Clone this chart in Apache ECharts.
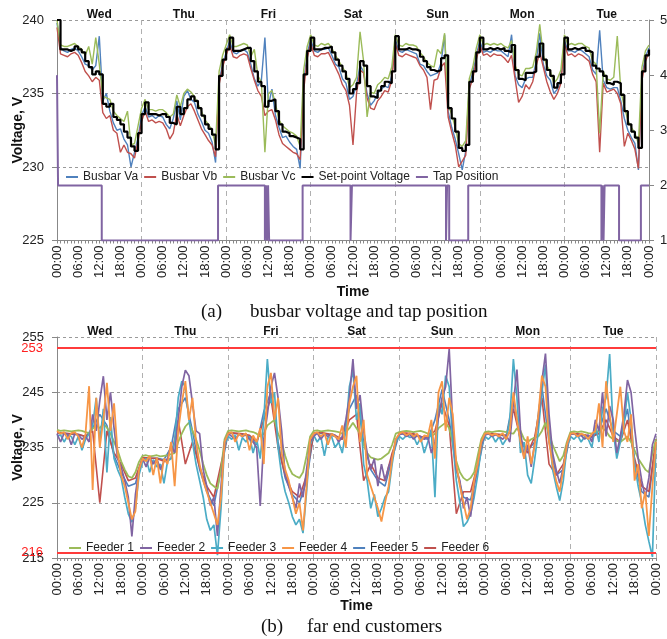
<!DOCTYPE html>
<html>
<head>
<meta charset="utf-8">
<script src="https://cdn.jsdelivr.net/npm/echarts@6/dist/echarts.min.js"></script>
<style>
html, body { margin: 0; padding: 0; background: #fff; }
#chart { width: 667px; height: 639px; }
</style>
</head>
<body>
<div id="chart"></div>
<script>
// week of hourly readings, t = 0 .. 168 h (Wed 00:00 -> Wed 00:00)
var days = ['Wed', 'Thu', 'Fri', 'Sat', 'Sun', 'Mon', 'Tue'];

// (a) busbar voltages, hourly
var setPoint = [
  240.0,238.0,238.0,237.9,238.0,238.2,238.0,237.8,237.2,236.8,236.3,236.5,236.3,234.3,234.1,234.3,233.4,233.2,232.9,232.4,232.0,231.4,231.1,232.3,
  233.6,234.4,233.6,233.6,233.5,233.6,233.6,233.4,233.0,232.9,234.1,233.6,234.0,234.6,234.8,234.5,234.0,233.5,232.9,232.6,232.2,231.2,236.2,237.3,
  238.0,238.8,237.9,237.9,238.0,238.1,238.1,237.2,236.5,235.8,235.5,234.1,234.5,234.6,233.8,232.9,232.4,232.3,232.1,232.0,231.9,231.2,236.3,237.9,
  238.8,238.0,238.0,238.1,238.1,238.2,237.8,237.3,236.9,236.5,236.0,235.0,235.3,235.7,237.2,236.9,235.5,234.8,234.7,235.2,235.5,235.8,235.7,236.5,
  238.9,238.0,238.0,238.1,238.0,238.0,237.9,237.5,237.2,236.8,236.6,236.5,236.6,237.4,237.6,234.0,233.3,232.4,231.3,231.1,231.5,235.8,236.5,237.8,
  238.8,238.0,238.1,238.0,238.1,238.0,238.1,237.9,237.8,238.3,236.6,236.0,235.9,236.4,236.4,236.5,237.5,238.4,237.3,236.6,236.2,235.4,235.7,236.3,
  238.8,238.0,238.1,238.0,238.1,238.1,237.9,237.8,236.9,236.7,236.5,236.2,235.7,235.6,235.8,235.7,234.9,233.8,232.9,232.4,232.0,231.3,236.5,237.6,238.0
];
var busVa = [
  239.8,238.1,237.9,237.8,238.0,238.1,237.9,237.5,237.0,236.9,236.6,236.9,238.9,234.5,235.0,233.8,233.0,232.5,232.6,231.9,231.5,230.0,231.0,232.0,
  233.5,234.1,233.4,233.5,233.3,233.5,233.4,232.9,232.6,233.3,234.5,233.2,234.8,235.2,234.6,234.4,233.6,233.1,232.5,232.3,231.7,230.3,235.8,237.0,
  237.8,238.6,237.8,237.7,237.9,238.0,237.8,237.0,236.0,235.5,235.9,238.8,234.2,235.3,233.5,232.7,232.0,232.1,231.7,231.4,231.2,229.9,235.8,237.7,
  238.7,237.9,237.8,238.0,238.0,238.1,237.6,237.0,236.8,236.0,235.7,234.6,234.8,235.6,236.9,236.5,235.0,234.2,234.5,235.0,235.3,235.5,235.4,236.2,
  238.7,237.9,237.8,238.0,237.9,237.8,237.7,237.0,236.9,236.5,236.2,236.3,236.4,237.1,239.0,233.8,232.7,231.9,230.9,229.8,231.1,235.6,236.4,237.6,
  238.6,237.8,237.9,237.8,238.0,237.9,237.9,237.7,237.5,239.0,236.2,235.6,235.4,236.0,236.1,236.1,237.2,239.1,237.0,236.2,235.9,235.0,235.3,236.0,
  238.6,237.9,237.9,237.8,238.0,237.9,237.7,237.5,236.6,236.3,239.3,235.9,235.4,235.3,235.4,235.4,234.5,233.3,232.5,232.0,231.6,229.8,236.2,237.5,238.1
];
var busVb = [
  239.5,237.7,237.6,237.5,237.7,237.8,237.6,237.1,236.5,236.2,235.8,236.1,235.9,233.7,233.3,233.5,232.5,232.3,231.0,231.5,231.0,230.9,230.6,231.8,
  233.1,233.8,233.1,233.2,233.0,233.1,233.0,232.6,231.9,232.3,233.6,232.8,233.5,234.1,234.3,233.8,233.2,232.6,232.2,231.8,231.5,230.7,235.6,236.8,
  237.6,238.3,237.5,237.4,237.6,237.7,237.6,236.7,235.9,235.2,234.8,233.5,233.8,233.9,233.2,232.2,231.6,231.4,231.2,231.0,230.9,230.5,235.2,237.4,
  238.4,237.6,237.5,237.7,237.7,237.8,237.3,236.8,236.3,235.6,235.2,234.2,231.5,235.0,236.6,236.4,234.7,234.0,233.9,234.5,234.8,235.2,235.1,235.9,
  238.4,237.6,237.5,237.7,237.6,237.5,237.4,236.9,236.6,236.1,233.9,235.9,236.0,236.8,237.1,233.4,232.4,231.5,230.0,230.4,230.8,235.3,236.0,237.3,
  238.3,237.6,237.7,237.5,237.7,237.6,237.6,237.4,237.1,237.6,236.0,234.4,234.8,235.6,235.3,235.8,236.9,237.8,236.8,235.8,235.1,234.6,235.0,235.7,
  238.4,237.6,237.7,237.5,237.7,237.6,237.4,237.2,236.3,235.8,231.0,235.7,235.1,235.2,235.3,235.0,234.3,231.4,232.3,231.8,231.2,229.9,235.9,237.2,237.8
];
var busVc = [
  240.0,238.3,238.2,238.2,238.3,238.4,238.2,238.0,237.6,238.2,237.0,238.8,237.0,234.8,234.7,234.6,233.8,233.5,233.3,233.1,233.8,231.5,231.6,232.8,
  234.0,234.6,233.9,233.9,233.8,233.9,233.9,233.7,233.4,233.6,234.9,234.1,235.0,235.3,235.1,234.8,234.3,233.8,233.2,232.9,232.5,231.5,236.5,237.6,
  238.3,239.0,238.2,238.2,238.3,238.4,238.3,237.5,238.0,236.2,235.8,231.0,235.0,235.2,234.3,233.2,232.8,232.6,232.4,232.3,232.1,231.4,236.6,238.2,
  239.0,238.3,238.2,238.4,238.3,238.4,238.1,237.6,237.2,236.8,236.4,235.4,235.6,236.1,239.2,237.2,233.4,235.1,235.0,235.6,235.8,236.1,236.0,236.8,
  239.0,238.3,238.2,238.4,238.3,238.3,238.2,237.8,237.5,237.1,236.9,236.8,238.0,237.7,239.1,234.2,233.6,232.7,231.6,231.4,231.8,236.0,236.8,238.1,
  239.0,238.3,238.4,238.3,238.4,238.3,238.4,238.2,238.1,238.6,236.9,236.3,236.2,236.7,236.7,236.8,237.8,239.7,237.6,236.9,236.5,235.7,236.0,236.6,
  239.0,238.3,238.4,238.3,238.4,238.4,238.2,238.1,237.2,237.0,232.3,236.5,236.0,235.9,236.1,238.9,235.2,234.1,233.2,232.7,232.3,231.6,236.8,237.9,238.3
];
// tap changes: [hour, tap position]
var tapChanges = [
  [0,4],[0.3,2],[12.7,1],[45.7,2],[59.0,1],[59.3,2],[59.6,1],[59.9,2],[60.2,1],[69.7,2],
  [83.3,1],[83.7,2],[110.4,1],[110.7,2],[111.3,1],[116.7,2],
  [154.5,1],[154.8,2],[155.1,1],[155.4,2],[159.5,1],[165.7,2],[168,2]
];

// (b) far end customers, hourly (feeders 1-4) and 2-hourly (feeders 5-6)
var feeder1 = [
  238.2,238.0,238.1,238.0,237.9,238.0,238.1,238.0,237.8,237.6,238.4,239.0,238.5,239.3,238.6,237.5,236.0,234.5,232.5,231.0,229.8,229.5,230.5,232.4,
  233.5,233.6,233.4,233.5,233.6,233.4,233.5,233.6,233.8,234.0,236.0,237.5,238.8,239.5,238.0,236.5,234.5,232.0,230.0,228.5,228.0,227.5,231.0,236.5,
  238.0,238.1,238.0,237.9,238.0,238.1,237.9,237.8,237.5,237.0,237.5,239.0,239.5,240.0,237.5,236.0,233.5,231.5,230.2,229.8,229.5,230.5,233.5,237.0,
  238.0,238.1,237.9,238.0,238.1,238.0,237.9,237.8,237.5,237.8,238.5,239.5,238.5,237.5,235.5,234.0,233.2,233.0,232.8,233.0,233.5,234.0,235.5,237.5,
  237.8,237.9,238.0,237.9,237.8,237.9,238.0,237.8,237.5,237.0,237.5,238.5,239.0,239.5,238.5,236.0,232.5,230.5,229.5,229.0,229.5,230.5,233.5,236.5,
  237.8,237.9,237.8,237.9,238.0,237.9,237.8,237.6,237.5,238.5,238.0,236.5,236.0,236.5,236.8,237.0,238.0,239.5,237.5,235.5,234.0,232.5,233.5,236.0,
  237.8,237.9,237.8,237.9,237.8,237.6,237.5,237.8,238.0,238.5,238.0,237.0,236.5,236.2,236.0,236.5,237.0,236.0,234.5,233.0,232.0,231.0,230.5,234.0,236.5
];
var feeder2 = [
  237.5,236.0,237.6,237.4,235.5,237.5,237.3,236.5,237.0,236.0,241.0,238.0,243.5,247.9,240.0,245.0,238.5,233.0,231.5,229.0,226.0,218.9,226.5,231.0,
  233.0,231.5,233.2,232.0,233.0,231.0,232.5,233.0,235.5,234.0,240.0,246.0,249.0,248.0,243.0,238.0,237.5,231.0,228.0,224.5,226.0,219.0,228.0,236.0,
  237.5,237.0,236.5,237.4,237.0,237.3,236.5,236.0,235.0,224.4,236.5,241.0,246.0,248.5,244.0,238.0,230.0,228.0,226.0,224.0,228.5,226.0,231.0,236.0,
  237.0,237.6,236.5,237.4,237.0,237.5,237.2,236.0,237.0,240.0,244.0,251.0,242.0,244.5,238.0,234.0,231.0,233.0,228.0,232.0,229.0,231.5,233.0,236.5,
  237.3,237.5,237.0,237.4,236.5,237.2,237.0,236.5,237.0,234.0,236.0,240.5,244.0,246.0,252.8,239.0,231.0,229.0,224.0,226.0,222.5,228.0,232.0,235.5,
  237.2,237.5,237.0,237.3,237.0,236.5,237.2,236.0,243.0,249.1,238.0,233.0,235.5,231.5,236.0,240.0,247.0,252.0,241.0,234.0,231.0,228.5,231.5,235.5,
  237.3,237.5,237.0,237.2,236.5,237.3,236.0,240.0,238.0,245.0,237.0,242.5,240.0,234.0,237.0,241.0,247.2,245.0,238.5,233.0,229.0,226.0,229.5,235.5,237.5
];
var feeder3 = [
  237.0,237.3,236.0,237.2,237.0,235.5,237.0,234.5,236.5,237.5,239.0,244.0,236.0,242.0,230.5,240.5,233.0,231.0,229.5,226.0,223.0,221.5,224.0,230.0,
  232.5,233.0,230.5,232.8,231.5,232.0,228.5,232.5,233.0,236.0,244.0,247.0,246.0,240.0,236.0,232.0,229.0,226.0,222.0,220.0,221.0,215.5,224.0,235.5,
  237.0,236.5,237.2,234.5,236.8,236.0,237.0,234.0,236.5,233.0,240.0,251.0,243.0,245.0,235.0,230.0,227.0,225.0,222.5,221.0,222.0,219.5,227.0,235.5,
  237.2,236.0,237.0,233.5,236.8,237.0,235.0,236.0,234.0,238.0,246.0,249.0,240.0,243.0,232.0,229.0,224.0,226.5,222.5,224.0,226.0,227.0,232.0,236.0,
  237.0,236.5,237.2,236.8,237.0,235.5,236.8,234.0,236.0,238.0,226.0,243.0,241.0,248.0,246.0,236.0,229.0,225.0,220.7,221.5,223.0,226.0,230.0,235.0,
  237.0,236.5,237.2,236.0,237.0,235.5,236.5,240.0,251.0,244.0,234.0,236.0,230.0,228.5,233.0,238.0,245.0,250.0,238.0,231.0,228.0,225.4,229.0,235.0,
  237.0,236.5,237.2,236.0,237.0,236.5,235.0,239.0,236.0,242.0,244.0,251.9,238.0,233.0,236.0,239.0,245.0,240.0,232.0,228.0,225.0,221.0,218.0,215.2,236.0
];
var feeder4 = [
  238.0,237.5,237.8,236.5,237.6,237.8,237.0,235.0,237.5,246.1,227.3,244.0,235.0,240.0,246.7,238.0,243.0,234.0,230.0,228.0,225.0,222.0,223.5,231.0,
  233.0,232.5,233.5,230.0,233.2,228.5,233.0,232.0,236.0,228.0,238.0,243.0,247.0,240.0,244.0,236.0,232.0,229.0,227.0,225.0,223.0,221.0,226.0,236.0,
  237.5,237.8,236.0,237.5,237.0,237.6,234.5,237.2,236.0,238.5,232.0,246.0,248.5,240.0,244.0,234.0,231.0,229.0,226.0,223.0,225.0,220.0,228.0,236.5,
  237.5,237.8,237.0,237.6,235.5,237.5,237.0,236.5,239.0,235.0,243.0,246.0,248.0,236.0,240.0,230.0,228.0,226.0,224.0,221.6,225.0,228.0,233.0,236.5,
  237.5,237.8,237.2,237.6,237.0,237.5,236.0,237.2,237.0,240.0,233.0,245.0,247.0,238.0,244.0,241.0,232.0,228.0,225.0,222.0,224.0,229.0,232.0,236.0,
  237.5,237.6,237.2,237.5,237.0,237.6,236.5,238.0,245.0,240.0,236.0,233.0,237.0,232.0,235.5,241.0,248.0,246.0,236.0,232.0,229.0,227.0,231.0,235.5,
  237.5,237.6,237.0,237.5,237.2,236.5,237.5,238.0,243.0,235.0,247.0,241.0,236.0,241.0,246.0,238.0,236.0,241.0,229.0,232.0,224.0,227.0,219.0,228.0,236.0
];
var feeder5 = [
  237.6,237.5,237.4,237.3,237.0,238.5,241.0,239.0,233.5,230.5,228.0,228.5,
  233.0,233.0,233.1,232.8,235.0,242.0,244.0,238.0,231.0,227.0,224.5,231.0,
  237.6,237.5,237.4,237.0,235.5,241.5,245.0,236.0,229.5,226.5,225.0,229.0,
  237.5,237.6,237.4,237.0,236.5,242.0,244.5,236.0,231.0,229.0,228.0,233.0,
  237.5,237.5,237.4,236.8,236.5,240.0,245.5,240.0,231.0,226.0,225.5,231.0,
  237.5,237.4,237.3,237.0,244.0,236.0,234.5,236.0,246.0,236.0,230.0,231.0,
  237.5,237.4,237.2,236.8,238.0,242.0,238.0,237.0,242.0,232.0,227.0,226.0,236.0
];
var feeder6 = [
  237.7,237.6,237.5,237.4,237.0,238.0,225.0,238.0,234.0,232.0,229.0,229.5,
  233.2,233.1,233.0,232.5,233.0,240.0,232.0,236.0,231.5,228.0,226.0,232.0,
  237.7,237.6,237.5,237.2,236.0,240.0,244.0,235.0,230.0,227.0,226.0,230.0,
  237.6,237.7,237.5,237.2,236.5,240.0,241.0,229.0,232.0,229.5,229.0,234.0,
  237.6,237.6,237.5,237.0,236.8,238.0,243.0,239.0,223.0,227.0,227.0,232.0,
  237.6,237.5,237.4,237.2,242.0,236.5,234.0,237.0,244.0,232.0,230.0,232.0,
  237.6,237.5,237.3,237.0,237.5,240.0,237.0,236.0,240.0,233.0,228.0,227.0,236.5
];
var limitHigh = 253, limitLow = 216;

function pairs(arr, step) {
  return arr.map(function (v, i) { return [i * step, v]; });
}
function hourLabel(v) {
  var h = v % 24;
  return (h < 10 ? '0' : '') + h + ':00';
}

var chart = echarts.init(document.getElementById('chart'));
var FONT = 'Liberation Sans';
var gridDash = { color: '#9a9a9a', type: [3, 3], width: 1 };
var dayDash = { color: '#b0b0b0', type: [5, 4], width: 1 };

function timeAxis(gi, gap) {
  return {
    type: 'value', gridIndex: gi, min: 0, max: 168, interval: 6,
    axisLine: { show: true, onZero: false, lineStyle: { color: '#888' } },
    axisTick: { show: true, length: 3, lineStyle: { color: '#888' } },
    minorTick: { show: true, splitNumber: 6, length: 3, lineStyle: { color: '#888' } },
    splitLine: { show: false },
    axisLabel: { rotate: 90, margin: 5, fontFamily: FONT, fontSize: 13, color: '#222', formatter: hourLabel },
    name: 'Time', nameLocation: 'middle', nameGap: gap, nameMoveOverlap: false,
    nameTextStyle: { fontFamily: FONT, fontSize: 14, fontWeight: 'bold', color: '#111' }
  };
}
function dayAxis(gi) {
  return {
    type: 'category', gridIndex: gi, position: 'top', data: days, boundaryGap: true,
    axisLine: { show: false }, axisTick: { show: false },
    axisLabel: { margin: -1, fontFamily: FONT, fontSize: 12, fontWeight: 'bold', color: '#111' },
    splitLine: { show: true, lineStyle: dayDash }
  };
}
function voltAxis(gi, min, max, interval) {
  return {
    type: 'value', gridIndex: gi, min: min, max: max, interval: interval,
    axisLine: { show: true, lineStyle: { color: '#888' } },
    axisTick: { show: true, length: 5, lineStyle: { color: '#888' } },
    axisLabel: { fontFamily: FONT, fontSize: 13, color: '#222', margin: 13 },
    splitLine: { show: true, lineStyle: gridDash },
    name: 'Voltage, V', nameLocation: 'middle', nameGap: 32, nameMoveOverlap: false,
    nameTextStyle: { fontFamily: FONT, fontSize: 14, fontWeight: 'bold', color: '#111' }
  };
}
function lineSeries(name, data, color, width, xi, yi, extra) {
  var s = {
    name: name, type: 'line', data: data, xAxisIndex: xi, yAxisIndex: yi,
    showSymbol: false, symbol: 'none', lineStyle: { color: color, width: width },
    itemStyle: { color: color }, silent: true
  };
  for (var k in extra) s[k] = extra[k];
  return s;
}

var topNames = ['Busbar Va', 'Busbar Vb', 'Busbar Vc', 'Set-point Voltage', 'Tap Position'];
var botNames = ['Feeder 1', 'Feeder 2', 'Feeder 3', 'Feeder 4', 'Feeder 5', 'Feeder 6'];
var legendText = { fontFamily: FONT, fontSize: 12, color: '#222' };

var option = {
  animation: false,
  backgroundColor: '#fff',
  grid: [
    { left: 57, top: 20, width: 592, height: 220.5, outerBoundsMode: 'none', containLabel: false },
    { left: 57, top: 337, width: 599, height: 221, outerBoundsMode: 'none', containLabel: false }
  ],
  legend: [
    { data: topNames, left: 61, top: 166, icon: 'rect', itemWidth: 12, itemHeight: 2, itemGap: 6, textStyle: legendText },
    { data: botNames, left: 64, top: 537, icon: 'rect', itemWidth: 12, itemHeight: 2, itemGap: 6, textStyle: legendText }
  ],
  xAxis: [timeAxis(0, 45), dayAxis(0), timeAxis(1, 41), dayAxis(1)],
  yAxis: [
    voltAxis(0, 225, 240, 5),
    {
      type: 'value', gridIndex: 0, position: 'right', min: 1, max: 5, interval: 1,
      axisLine: { show: true, lineStyle: { color: '#888' } },
      axisTick: { show: true, length: 5, lineStyle: { color: '#888' } },
      axisLabel: { fontFamily: FONT, fontSize: 13, color: '#222', margin: 11 },
      splitLine: { show: false }
    },
    voltAxis(1, 215, 255, 10)
  ],
  series: [
    lineSeries('Busbar Va', pairs(busVa, 1), '#4f81bd', 1.4, 0, 0),
    lineSeries('Busbar Vb', pairs(busVb, 1), '#c0504d', 1.4, 0, 0),
    lineSeries('Busbar Vc', pairs(busVc, 1), '#9bbb59', 1.4, 0, 0),
    lineSeries('Set-point Voltage', pairs(setPoint, 1), '#000000', 2.2, 0, 0, { step: 'end' }),
    lineSeries('Tap Position', tapChanges, '#8064a2', 2, 0, 1, { step: 'end' }),

    lineSeries('Feeder 5', pairs(feeder5, 2), '#4f81bd', 1.6, 2, 2),
    lineSeries('Feeder 6', pairs(feeder6, 2), '#c0504d', 1.6, 2, 2),
    lineSeries('Feeder 1', pairs(feeder1, 1), '#9bbb59', 1.8, 2, 2),
    lineSeries('Feeder 3', pairs(feeder3, 1), '#4bacc6', 1.7, 2, 2),
    lineSeries('Feeder 2', pairs(feeder2, 1), '#8064a2', 1.7, 2, 2),
    lineSeries('Feeder 4', pairs(feeder4, 1), '#f79646', 1.8, 2, 2, {
      markLine: {
        silent: true, symbol: 'none',
        lineStyle: { color: '#ff3b3b', type: 'solid', width: 2 },
        label: { show: true, position: 'start', distance: 14, formatter: '{c}', color: '#ff2020', fontFamily: FONT, fontSize: 13 },
        data: [{ yAxis: limitHigh }, { yAxis: limitLow }]
      }
    })
  ],
  graphic: [
    { type: 'text', left: 201, top: 303, style: { text: '(a)', font: '19px "Liberation Serif"', fill: '#111' } },
    { type: 'text', left: 250, top: 303, style: { text: 'busbar voltage and tap position', font: '19px "Liberation Serif"', fill: '#111' } },
    { type: 'text', left: 261, top: 618, style: { text: '(b)', font: '19px "Liberation Serif"', fill: '#111' } },
    { type: 'text', left: 307, top: 618, style: { text: 'far end customers', font: '19px "Liberation Serif"', fill: '#111' } }
  ]
};
chart.setOption(option);
</script>
</body>
</html>
